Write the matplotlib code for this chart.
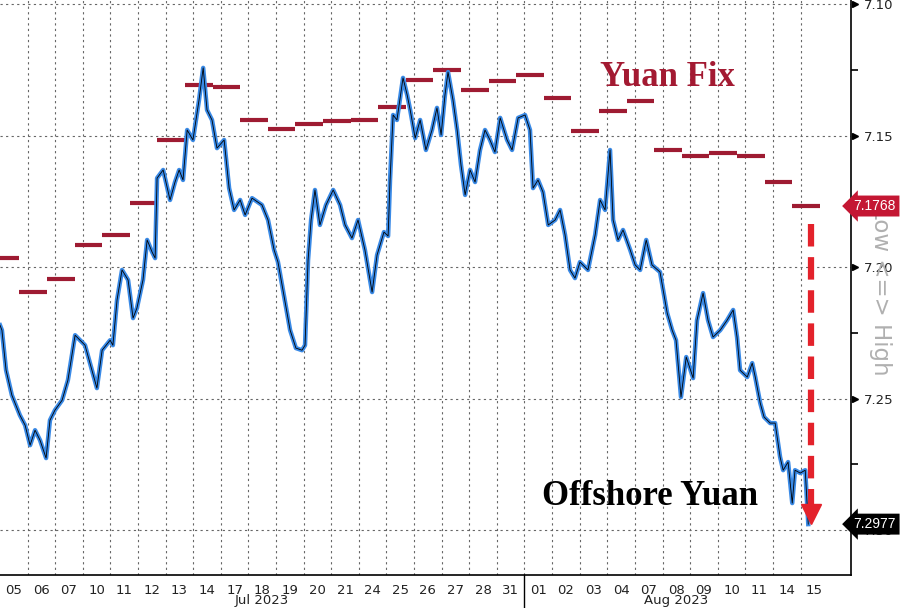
import matplotlib
matplotlib.use('Agg')
import matplotlib.pyplot as plt
import matplotlib.transforms as mtransforms

# trading days shown on the x axis
day_labels = ['05', '06', '07', '10', '11', '12', '13', '14', '17', '18', '19', '20', '21', '24', '25',
              '26', '27', '28', '31', '01', '02', '03', '04', '07', '08', '09', '10', '11', '14', '15']
months = ['Jul 2023', 'Aug 2023']

# daily PBOC fixing
fix_values = [7.1965, 7.2095, 7.2046, 7.1916, 7.1878, 7.1757, 7.1517, 7.1308, 7.1316, 7.1441,
              7.1475, 7.1456, 7.1445, 7.1441, 7.1392, 7.1289, 7.1251, 7.1327, 7.1293, 7.1270,
              7.1357, 7.1483, 7.1407, 7.1369, 7.1555, 7.1578, 7.1567, 7.1578, 7.1677, 7.1768]

# offshore yuan (time in trading days since Jul 05 open)
cnh_t = [0.00, 0.07, 0.22, 0.43, 0.72, 0.91, 1.09, 1.27, 1.45, 1.67, 1.81, 1.99, 2.25, 2.46, 2.72,
         2.90, 3.08, 3.33, 3.51, 3.70, 3.99, 4.09, 4.24, 4.42, 4.64, 4.82, 4.96, 5.18, 5.33, 5.51,
         5.62, 5.69, 5.91, 6.16, 6.34, 6.49, 6.63, 6.78, 6.99, 7.21, 7.36, 7.50, 7.68, 7.86, 8.12,
         8.30, 8.48, 8.70, 8.88, 9.13, 9.49, 9.71, 9.93, 10.07, 10.25, 10.51, 10.72, 10.94, 11.05, 11.16,
         11.27, 11.41, 11.59, 11.81, 12.07, 12.32, 12.50, 12.75, 12.97, 13.22, 13.48, 13.66, 13.91, 14.06, 14.13,
         14.24, 14.38, 14.60, 14.75, 14.86, 15.04, 15.22, 15.43, 15.65, 15.83, 15.98, 16.12, 16.23, 16.41, 16.56,
         16.70, 16.85, 17.03, 17.21, 17.39, 17.57, 17.75, 17.93, 18.12, 18.37, 18.55, 18.77, 19.02, 19.20, 19.31,
         19.49, 19.67, 19.86, 20.11, 20.29, 20.47, 20.65, 20.83, 21.01, 21.30, 21.56, 21.74, 21.92, 22.10, 22.21,
         22.39, 22.57, 22.83, 23.01, 23.19, 23.41, 23.62, 23.91, 24.17, 24.35, 24.49, 24.67, 24.86, 25.11, 25.25,
         25.47, 25.65, 25.83, 26.09, 26.34, 26.56, 26.70, 26.81, 27.07, 27.25, 27.36, 27.54, 27.68, 27.90, 28.08,
         28.26, 28.37, 28.55, 28.70, 28.80, 28.99, 29.17, 29.28]
cnh = [7.2221, 7.2240, 7.2392, 7.2487, 7.2563, 7.2601, 7.2677, 7.2620, 7.2658, 7.2726, 7.2582, 7.2544, 7.2506, 7.2430, 7.2259,
       7.2278, 7.2297, 7.2392, 7.2460, 7.2316, 7.2278, 7.2297, 7.2125, 7.2011, 7.2049, 7.2194, 7.2156, 7.2049, 7.1897, 7.1943,
       7.1966, 7.1662, 7.1631, 7.1745, 7.1677, 7.1631, 7.1669, 7.1479, 7.1517, 7.1365, 7.1243, 7.1403, 7.1441, 7.1548, 7.1517,
       7.1700, 7.1783, 7.1745, 7.1802, 7.1738, 7.1764, 7.1821, 7.1935, 7.1981, 7.2087, 7.2240, 7.2308, 7.2316, 7.2297, 7.1973,
       7.1821, 7.1707, 7.1840, 7.1764, 7.1707, 7.1764, 7.1840, 7.1890, 7.1821, 7.1935, 7.2095, 7.1954, 7.1867, 7.1882, 7.1669,
       7.1422, 7.1441, 7.1281, 7.1346, 7.1403, 7.1510, 7.1441, 7.1555, 7.1479, 7.1395, 7.1498, 7.1346, 7.1259, 7.1365, 7.1479,
       7.1612, 7.1726, 7.1631, 7.1677, 7.1555, 7.1479, 7.1517, 7.1563, 7.1433, 7.1517, 7.1555, 7.1433, 7.1422, 7.1479, 7.1700,
       7.1669, 7.1715, 7.1840, 7.1821, 7.1783, 7.1878, 7.2011, 7.2042, 7.1981, 7.2011, 7.1878, 7.1745, 7.1783, 7.1555, 7.1821,
       7.1897, 7.1859, 7.1935, 7.1992, 7.2011, 7.1897, 7.1992, 7.2019, 7.2175, 7.2240, 7.2278, 7.2494, 7.2342, 7.2422, 7.2202,
       7.2099, 7.2202, 7.2266, 7.2240, 7.2202, 7.2163, 7.2266, 7.2392, 7.2418, 7.2365, 7.2418, 7.2517, 7.2570, 7.2593, 7.2593,
       7.2722, 7.2772, 7.2741, 7.2897, 7.2772, 7.2783, 7.2772, 7.2977]

y_ticks = [7.10, 7.15, 7.20, 7.25, 7.30]
y_minor = [7.125, 7.175, 7.225, 7.275]

fix_col = '#9e1b32'
grid_col = '#666666'

fig = plt.figure(figsize=(9, 6.08), dpi=100)
ax = fig.add_axes([0.0, 0.054, 0.9456, 0.946])
ax.set_xlim(0, 30.83)
ax.set_ylim(7.3171, 7.0985)

# grid
for i in range(1, len(day_labels)):
    ax.axvline(i, color=grid_col, lw=0.8, ls=(0, (2, 3)), zorder=1)
for v in y_ticks:
    ax.axhline(v, color=grid_col, lw=0.8, ls=(0, (2, 3)), zorder=1)

# yuan fix bars
for i, v in enumerate(fix_values):
    ax.plot([i - 0.3, i + 0.7], [v, v], color=fix_col, lw=3, solid_capstyle='butt', zorder=3)

# offshore yuan
ax.plot(cnh_t, cnh, color='#3a8ae6', lw=3.2, zorder=4)
ax.plot(cnh_t, cnh, color='black', lw=0.6, zorder=5)

# red dashed arrow from last fix to last price
ax.plot([29.38, 29.38], [fix_values[-1] + 0.007, cnh[-1] - 0.0065], color='#e3222b', lw=4.5,
        ls=(0, (3.6, 1.7)), solid_capstyle='butt', zorder=6)
ax.plot(29.38, cnh[-1] - 0.0038, marker='v', ms=14, color='#e3222b', zorder=6)

ax.text(24.17, 7.1281, 'Yuan Fix', family='Liberation Serif', weight='bold', fontsize=25,
        color='#a31a32', ha='center', va='center', zorder=7)
ax.text(23.55, 7.2871, 'Offshore Yuan', family='Liberation Serif', weight='bold', fontsize=25,
        color='black', ha='center', va='center', zorder=7)

# axes styling
for s in ['top', 'left']:
    ax.spines[s].set_visible(False)
ax.spines['right'].set_linewidth(1.2)
ax.spines['bottom'].set_linewidth(1.2)
ax.yaxis.tick_right()
ax.set_yticks(y_ticks)
ax.set_yticklabels(['%.2f' % v for v in y_ticks])
ax.set_yticks(y_minor, minor=True)
ax.tick_params(axis='y', which='major', length=0, pad=9, labelsize=9.5, labelcolor='#222222')
ax.tick_params(axis='y', which='minor', length=5, width=1.2, direction='out')
ax.set_xticks([i + 0.5 for i in range(len(day_labels))])
ax.set_xticklabels(day_labels)
ax.tick_params(axis='x', length=0, pad=6, labelsize=9.5, labelcolor='#222222')

trans = mtransforms.blended_transform_factory(ax.transAxes, ax.transData)
ax.plot([1.005] * len(y_ticks), y_ticks, ls='none', marker='>', ms=5, color='black',
        transform=trans, clip_on=False)

# month labels and separator
transx = mtransforms.blended_transform_factory(ax.transData, fig.transFigure)
ax.text(9.5, 0.012, months[0], transform=transx, ha='center', va='center', fontsize=9.5, color='#222222')
ax.text(24.5, 0.012, months[1], transform=transx, ha='center', va='center', fontsize=9.5, color='#222222')
ax.plot([19, 19], [0.0, 0.054], color='black', lw=1.0, transform=transx, clip_on=False)

# axis caption, drawn under the value tags
ax.text(0.978, 0.522, 'Low <=> High', rotation=270, ha='center', va='center', transform=fig.transFigure,
        fontsize=16.5, color='#b0b0b0', clip_on=False, zorder=8)

# last value tags
ax.text(1.003, fix_values[-1], '%.4f' % fix_values[-1], transform=trans, ha='left', va='center',
        family='Liberation Sans', fontsize=10, color='white', zorder=10, clip_on=False,
        bbox=dict(boxstyle='larrow,pad=0.25', fc='#c41733', ec='none'))
ax.text(1.003, cnh[-1], '%.4f' % cnh[-1], transform=trans, ha='left', va='center',
        family='Liberation Sans', fontsize=10, color='white', zorder=10, clip_on=False,
        bbox=dict(boxstyle='larrow,pad=0.25', fc='black', ec='none'))

fig.savefig('out.png', dpi=100)
